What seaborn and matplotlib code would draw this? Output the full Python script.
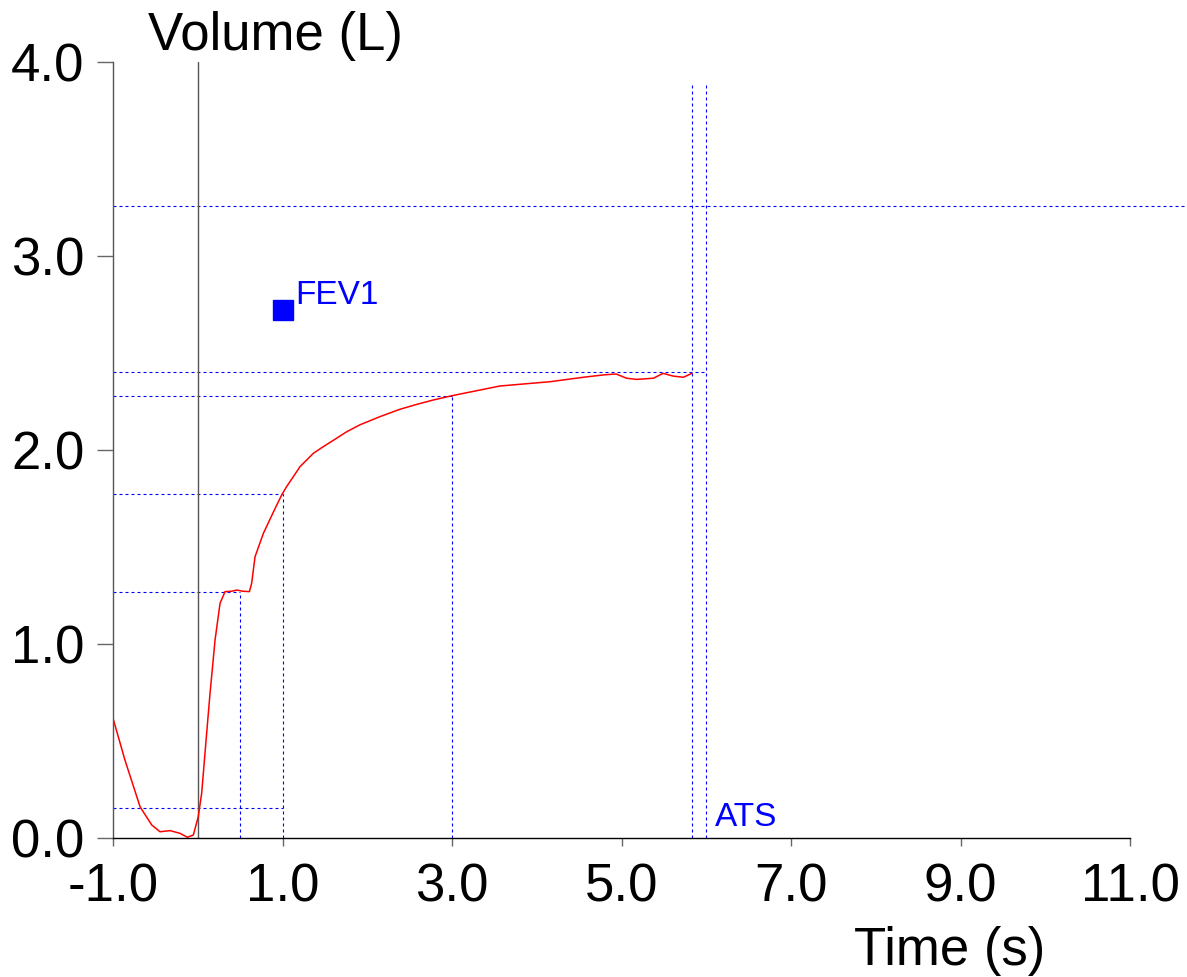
import matplotlib
matplotlib.use("Agg")
import matplotlib.pyplot as plt
import seaborn as sns
import pandas as pd

# Volume-time curve of a forced expiration
time_s = [-1.0, -0.858, -0.68, -0.543, -0.445, -0.327, -0.21, -0.123, -0.052,
          0.006, 0.046, 0.105, 0.145, 0.204, 0.263, 0.322, 0.40, 0.46, 0.53,
          0.609, 0.636, 0.676, 0.774, 0.892, 0.99, 1.048, 1.127, 1.206,
          1.284, 1.364, 1.48, 1.6, 1.757, 1.914, 2.15, 2.386, 2.583, 2.78,
          3.0, 3.566, 4.156, 4.55, 4.785, 4.935, 5.06, 5.18, 5.376, 5.49,
          5.61, 5.73, 5.83]
volume_l = [0.617, 0.40, 0.16, 0.067, 0.032, 0.038, 0.024, 0.004, 0.015,
            0.11, 0.23, 0.54, 0.746, 1.02, 1.21, 1.27, 1.272, 1.278, 1.272,
            1.27, 1.313, 1.45, 1.57, 1.68, 1.768, 1.811, 1.862, 1.914,
            1.948, 1.983, 2.017, 2.05, 2.094, 2.13, 2.172, 2.21, 2.235, 2.258,
            2.28, 2.33, 2.352, 2.375, 2.387, 2.392, 2.37, 2.364, 2.37, 2.395,
            2.381, 2.375, 2.395]

# Reference markers: (time, volume) pairs for guide lines
guide_times = [0.0, 0.5, 1.0, 3.0]
guide_volumes = [0.155, 1.268, 1.773, 2.278]
end_times = [5.83, 6.0]
plateau_volume = 2.40
predicted_volume = 3.258
fev1_point = (1.0, 2.72)

x_ticks = [-1.0, 1.0, 3.0, 5.0, 7.0, 9.0, 11.0]
y_ticks = [0.0, 1.0, 2.0, 3.0, 4.0]

sns.set_theme(style="white")
plt.rcParams["font.family"] = ["Liberation Sans", "DejaVu Sans"]
plt.rcParams["text.color"] = "black"
plt.rcParams["xtick.color"] = "#666666"
plt.rcParams["ytick.color"] = "#666666"
plt.rcParams["xtick.labelcolor"] = "black"
plt.rcParams["ytick.labelcolor"] = "black"

fig = plt.figure(figsize=(11.87, 9.77), dpi=100)
ax = fig.add_axes([0.0952, 0.1423, 0.8568, 0.7942])

blue = "#0000ff"
dash = dict(color=blue, lw=0.8, linestyle=(0, (2.7, 2.7)))

# guide lines
ax.plot([-1.0, 11.67], [predicted_volume] * 2, clip_on=False, **dash)
ax.plot([-1.0, end_times[1]], [plateau_volume] * 2, **dash)
for t in end_times:
    ax.plot([t, t], [0, 3.897], clip_on=False, **dash)
ax.plot([-1.0, guide_times[2]], [guide_volumes[0]] * 2, **dash)
for t, v in zip(guide_times[1:], guide_volumes[1:]):
    ax.plot([-1.0, t], [v, v], **dash)
    ax.plot([t, t], [0, v], **dash)

# zero-time line
ax.axvline(0.0, color="#555555", lw=1.0)

df = pd.DataFrame({"Time": time_s, "Volume": volume_l})
sns.lineplot(data=df, x="Time", y="Volume", ax=ax, color="#ff0000",
             lw=1.1, sort=False, estimator=None)

ax.plot([fev1_point[0]], [fev1_point[1]], marker="s", ms=15, color=blue,
        linestyle="none")
ax.text(1.148, 2.755, "FEV1", color=blue, fontsize=24, ha="left",
        va="baseline")
ax.text(6.103, 0.062, "ATS", color=blue, fontsize=24, ha="left",
        va="baseline")

ax.set_xlim(-1.0, 11.0)
ax.set_ylim(0.0, 4.0)
ax.set_xticks(x_ticks)
ax.set_yticks(y_ticks)
ax.set_xticklabels([f"{v:.1f}" for v in x_ticks])
ax.set_yticklabels([f"{v:.1f}" for v in y_ticks])
ax.tick_params(axis="both", labelsize=38, width=1, direction="out",
               bottom=True, left=True)
ax.tick_params(axis="x", length=6, pad=12)
ax.tick_params(axis="y", length=11.5, pad=9)
ax.set_xlabel("")
ax.set_ylabel("")

for side in ("top", "right"):
    ax.spines[side].set_visible(False)
ax.spines["left"].set_color("#555555")
ax.spines["left"].set_linewidth(1.0)
ax.spines["bottom"].set_color("black")
ax.spines["bottom"].set_linewidth(1.0)

fig.text(275 / 1187, 1 - 50 / 977, "Volume (L)", fontsize=38,
         ha="center", va="baseline")
fig.text(1045 / 1187, 1 - 965 / 977, "Time (s)", fontsize=38,
         ha="right", va="baseline")

fig.savefig("out.png", dpi=100, facecolor="white")
